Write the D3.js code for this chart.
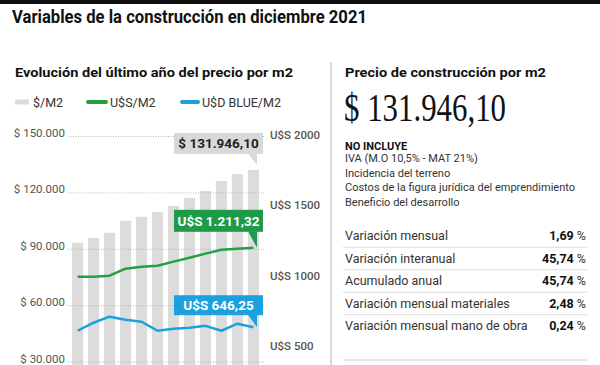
<!DOCTYPE html>
<html>
<head>
<meta charset="utf-8">
<script src="https://cdn.jsdelivr.net/npm/d3@7"></script>
<style>
  body { margin: 0; background: #fff; }
  svg { display: block; font-family: Roboto, "Noto Sans", sans-serif; }
</style>
</head>
<body>
<div id="viz"></div>
<script>
// chart data
const months = ["Ene", "Feb", "Mar", "Abr", "May", "Jun", "Jul", "Ago", "Sep", "Oct", "Nov", "Dic"];
const pesosM2 = [93200, 95800, 98500, 104900, 107000, 109600, 112800, 117100, 120800, 126100, 129750, 131946.10];
const usdM2 = [1006, 1006, 1013, 1063, 1077, 1084, 1113, 1141, 1170, 1198, 1205, 1211.32];
const blueM2 = [621, 678, 721, 699, 685, 621, 635, 642, 656, 621, 671, 646.25];
const leftTicks = [30000, 60000, 90000, 120000, 150000];
const rightTicks = [500, 1000, 1500, 2000];
const legendLabels = ["$/M2", "U$S/M2", "U$D BLUE/M2"];
const noIncluye = ["IVA (M.O 10,5% - MAT 21%)", "Incidencia del terreno",
                   "Costos de la figura jurídica del emprendimiento", "Beneficio del desarrollo"];
const tableLabels = ["Variación mensual", "Variación interanual", "Acumulado anual",
                     "Variación mensual materiales", "Variación mensual mano de obra"];
const tableValues = [1.69, 45.74, 45.74, 2.48, 0.24];

const W = 600, H = 365;
const colGray = "#dcdcdc", colGreen = "#22a046", colBlue = "#1ba1de";

const locale = d3.formatLocale({decimal: ",", thousands: ".", grouping: [3], currency: ["$", ""]});
const fmtInt = locale.format(",.0f");
const fmt2 = locale.format(",.2f");

const svg = d3.select("#viz").append("svg")
    .attr("width", W)
    .attr("height", H);

// top black rule
svg.append("rect").attr("x", 0).attr("y", 0).attr("width", W).attr("height", 4).attr("fill", "#111");

// title
svg.append("text")
    .attr("x", 12).attr("y", 23)
    .attr("font-size", 18).attr("font-weight", "bold").attr("fill", "#111")
    .attr("textLength", 355).attr("lengthAdjust", "spacingAndGlyphs")
    .text("Variables de la construcción en diciembre 2021");

// ---------- left chart ----------
svg.append("text")
    .attr("x", 15).attr("y", 77)
    .attr("font-size", 13.5).attr("font-weight", "bold").attr("fill", "#111")
    .attr("textLength", 278).attr("lengthAdjust", "spacingAndGlyphs")
    .text("Evolución del último año del precio por m2");

// legend
const legendX = [15, 88, 182];
const legendW = [14, 18, 16];
const legendC = [colGray, colGreen, colBlue];
const legend = svg.append("g").selectAll("g")
    .data(legendLabels)
  .join("g")
    .attr("transform", (d, i) => `translate(${legendX[i]},102)`);
legend.append("line")
    .attr("x1", 0).attr("x2", (d, i) => legendW[i])
    .attr("stroke", (d, i) => legendC[i])
    .attr("stroke-width", (d, i) => i === 0 ? 5 : 4)
    .attr("stroke-linecap", (d, i) => i === 0 ? "butt" : "round");
legend.append("text")
    .attr("x", (d, i) => legendW[i] + 4)
    .attr("y", 5)
    .attr("font-size", 12.5).attr("fill", "#333")
    .text(d => d);

const x = d3.scaleBand()
    .domain(months)
    .range([72, 259])
    .paddingInner(0.3)
    .paddingOuter(0);
const yL = d3.scaleLinear().domain([0, 150000]).range([418, 136]);
const yR = d3.scaleLinear().domain([0, 2000]).range([418, 137]);

// bars
svg.append("g").selectAll("rect")
    .data(pesosM2)
  .join("rect")
    .attr("x", (d, i) => x(months[i]))
    .attr("y", d => yL(d))
    .attr("width", x.bandwidth())
    .attr("height", d => yL(0) - yL(d))
    .attr("fill", colGray);

// left axis with dotted grid
const axL = svg.append("g")
    .attr("transform", "translate(68,0)")
    .call(d3.axisLeft(yL).tickValues(leftTicks)
        .tickSizeInner(-196).tickSizeOuter(0).tickPadding(3)
        .tickFormat(d => "$ " + fmtInt(d)));
axL.select(".domain").remove();
axL.selectAll(".tick line")
    .attr("stroke", "#aaa").attr("stroke-width", 0.8).attr("stroke-dasharray", "1,1.5");
axL.selectAll(".tick text")
    .attr("dy", "0.05em")
    .attr("font-family", "Roboto, sans-serif")
    .attr("font-size", 11.5).attr("fill", "#555");

// right axis
const axR = svg.append("g")
    .attr("transform", "translate(270,0)")
    .call(d3.axisRight(yR).tickValues(rightTicks)
        .tickSize(0).tickPadding(0)
        .tickFormat(d => "U$S " + d));
axR.select(".domain").remove();
axR.selectAll(".tick text")
    .attr("dy", "0.15em")
    .attr("font-family", "Roboto, sans-serif")
    .attr("font-size", 11.5).attr("font-weight", 500).attr("fill", "#555");

// lines
const cx = i => x(months[i]) + x.bandwidth() / 2;
const lineR = d3.line().x((d, i) => cx(i)).y(d => yR(d));
svg.append("path").datum(usdM2)
    .attr("fill", "none").attr("stroke", colGreen).attr("stroke-width", 2.5)
    .attr("stroke-linejoin", "round")
    .attr("d", lineR);
svg.append("path").datum(blueM2)
    .attr("fill", "none").attr("stroke", colBlue).attr("stroke-width", 2.5)
    .attr("stroke-linejoin", "round")
    .attr("d", lineR);

// callouts on the last month
const last = months.length - 1;
function callout(label, fill, color, tipY, gap, boxH) {
  const right = x(months[last]) + x.bandwidth() + 4;
  const left = right - 89;
  const bottom = tipY - gap;
  const g = svg.append("g");
  g.append("rect")
      .attr("x", left).attr("y", bottom - boxH)
      .attr("width", right - left).attr("height", boxH)
      .attr("fill", fill);
  g.append("path")
      .attr("d", `M${right - 15},${bottom - 0.5}L${right - 6},${bottom - 0.5}L${right - 6},${tipY}Z`)
      .attr("fill", fill);
  g.append("text")
      .attr("x", (left + right) / 2).attr("y", bottom - boxH / 2)
      .attr("dy", "0.36em")
      .attr("text-anchor", "middle")
      .attr("font-size", 13.5).attr("font-weight", "bold").attr("fill", color)
      .text(label);
}
callout("$ " + fmt2(pesosM2[last]), "#d9d9d9", "#222", yL(pesosM2[last]) - 5, 11, 21);
callout("U$S " + fmt2(usdM2[last]), "#1e9a48", "#fff", yR(usdM2[last]), 16, 22);
callout("U$S " + fmt2(blueM2[last]), colBlue, "#fff", yR(blueM2[last]), 12, 20);

// divider
svg.append("line")
    .attr("x1", 331).attr("x2", 331).attr("y1", 62).attr("y2", H)
    .attr("stroke", "#ccc").attr("stroke-width", 1.5);

// ---------- right panel ----------
svg.append("text")
    .attr("x", 345).attr("y", 77)
    .attr("font-size", 13.5).attr("font-weight", "bold").attr("fill", "#111")
    .attr("textLength", 201).attr("lengthAdjust", "spacingAndGlyphs")
    .text("Precio de construcción por m2");

svg.append("text")
    .attr("x", 344).attr("y", 121)
    .attr("font-family", "'Liberation Serif', 'DejaVu Serif', serif")
    .attr("font-size", 39).attr("fill", "#111")
    .attr("textLength", 162).attr("lengthAdjust", "spacingAndGlyphs")
    .text("$ " + fmt2(pesosM2[last]));

svg.append("text")
    .attr("x", 345).attr("y", 150)
    .attr("font-size", 11).attr("font-weight", "bold").attr("fill", "#111")
    .text("NO INCLUYE");

svg.append("g").selectAll("text")
    .data(noIncluye)
  .join("text")
    .attr("x", 345)
    .attr("y", (d, i) => 162 + i * 14.5)
    .attr("font-size", 11).attr("fill", "#333")
    .text(d => d);

// variation table
const rowY = d3.scaleLinear().domain([0, 1]).range([236, 258.5]);
const table = svg.append("g");
table.selectAll("line.sep")
    .data(tableLabels.slice(1))
  .join("line")
    .attr("class", "sep")
    .attr("x1", 343).attr("x2", 587)
    .attr("y1", (d, i) => (rowY(i) + rowY(i + 1)) / 2)
    .attr("y2", (d, i) => (rowY(i) + rowY(i + 1)) / 2)
    .attr("stroke", "#ddd").attr("stroke-width", 1);
table.append("line")
    .attr("x1", 343).attr("x2", 587).attr("y1", 360).attr("y2", 360)
    .attr("stroke", "#ccc").attr("stroke-width", 1);

table.selectAll("text.lab")
    .data(tableLabels)
  .join("text")
    .attr("class", "lab")
    .attr("x", 345).attr("y", (d, i) => rowY(i))
    .attr("dy", "0.35em")
    .attr("font-size", 12.5).attr("fill", "#333")
    .text(d => d);

const val = table.selectAll("text.val")
    .data(tableValues)
  .join("text")
    .attr("class", "val")
    .attr("x", 586).attr("y", (d, i) => rowY(i))
    .attr("dy", "0.35em")
    .attr("text-anchor", "end")
    .attr("font-size", 12.5).attr("fill", "#111");
val.append("tspan").attr("font-weight", "bold").text(d => fmt2(d));
val.append("tspan").attr("fill", "#333").text(" %");
</script>
</body>
</html>
